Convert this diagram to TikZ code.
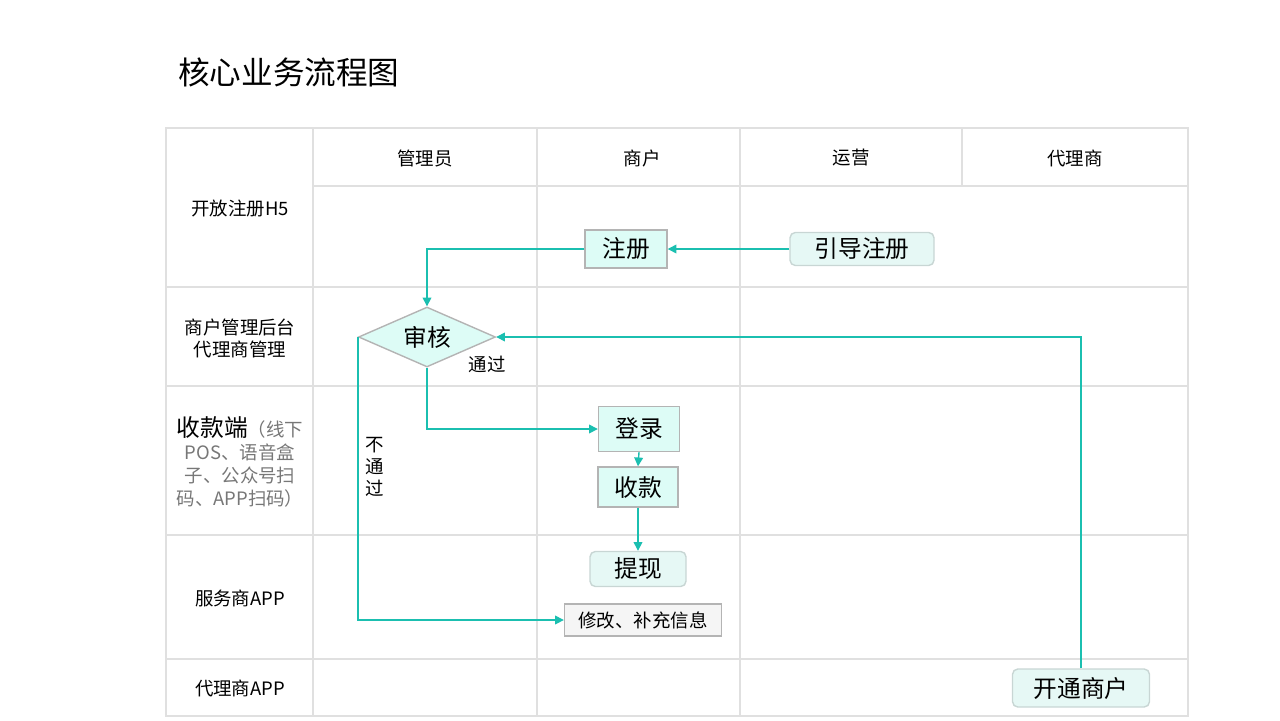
\documentclass[tikz,border=0pt]{standalone}
\usepackage{fontspec}
\setmainfont{Noto Sans CJK SC}
\usetikzlibrary{arrows.meta}
\usetikzlibrary{positioning}
\usetikzlibrary{shapes.geometric}
\definecolor{flowteal}{HTML}{1BBFB0}
\definecolor{gridgray}{HTML}{E0E0E0}
\definecolor{boxgray}{HTML}{B4B4B4}
\definecolor{boxfill}{HTML}{DDFCF6}
\definecolor{softfill}{HTML}{E6F8F5}
\definecolor{softline}{HTML}{C8D6D4}
\definecolor{notefill}{HTML}{F5F5F5}
\definecolor{notetext}{HTML}{777777}
\tikzset{
  lane/.style={draw=gridgray,line width=0.8pt},
  lanetext/.style={font=\fontsize{10.5}{12.5}\selectfont,text=black,align=center},
  stepbox/.style={rectangle,draw=boxgray,fill=boxfill,line width=0.8pt,font=\fontsize{13.5}{16}\selectfont,inner sep=0pt},
  softbox/.style={rectangle,rounded corners=3pt,draw=softline,fill=softfill,line width=0.8pt,font=\fontsize{13.5}{16}\selectfont,inner sep=0pt},
  checkbox/.style={diamond,aspect=2.3,draw=boxgray,fill=boxfill,line width=0.8pt,font=\fontsize{13.5}{16}\selectfont,inner sep=1pt},
  notebox/.style={rectangle,draw=boxgray,fill=notefill,line width=0.8pt,font=\fontsize{10.5}{12.5}\selectfont,inner sep=0pt},
  flow/.style={draw=flowteal,line width=0.8pt,-{Triangle[width=5pt,length=5pt]}},
}
\begin{document}
\begin{tikzpicture}[x=0.02cm,y=-0.02cm]
\useasboundingbox (0,0) rectangle (1280,720);
\node[anchor=west,font=\fontsize{18}{22}\selectfont] (title) at (172,72) {核心业务流程图};
\draw[lane] (166,128) rectangle (1188,716);
\draw[lane] (313,186) -- (1188,186);
\draw[lane] (166,287) -- (1188,287);
\draw[lane] (166,386) -- (1188,386);
\draw[lane] (166,535) -- (1188,535);
\draw[lane] (166,659) -- (1188,659);
\draw[lane] (313,128) -- (313,716);
\draw[lane] (537,128) -- (537,716);
\draw[lane] (740,128) -- (740,716);
\draw[lane] (962,128) -- (962,186);

\node[lanetext] (hadmin) at (425,158) {管理员};
\node[lanetext] (hshop) at (642,158) {商户};
\node[lanetext] (hops) at (851,158) {运营};
\node[lanetext] (hagent) at (1075,158) {代理商};

\node[lanetext] (rh5) at (240,209) {开放注册H5};
\node[lanetext] (rback) at (240,338) {商户管理后台\\代理商管理};
\node[lanetext,font=\fontsize{10.5}{13}\selectfont] (rpay) at (240,462) {{\fontsize{13.5}{13}\selectfont 收款端}\textcolor{notetext}{（线下}\\\textcolor{notetext}{POS、语音盒}\\\textcolor{notetext}{子、公众号扫}\\\textcolor{notetext}{码、APP扫码）}};
\node[lanetext] (rsvc) at (240,598) {服务商APP};
\node[lanetext] (ragent) at (240,688) {代理商APP};

\node[stepbox,minimum width=1.64cm,minimum height=0.76cm] (zc) at (626,249) {注册};
\node[softbox,minimum width=2.88cm,minimum height=0.66cm] (yd) at (862,249) {引导注册};
\node[checkbox,minimum width=2.74cm,minimum height=1.2cm] (sh) at (427,337) {审核};
\node[stepbox,minimum width=1.62cm,minimum height=0.9cm] (dl) at (639,429) {登录};
\node[stepbox,minimum width=1.6cm,minimum height=0.8cm] (sk) at (638,487) {收款};
\node[softbox,minimum width=1.92cm,minimum height=0.7cm] (tx) at (638,569) {提现};
\node[notebox,minimum width=3.14cm,minimum height=0.64cm] (xg) at (643,620) {修改、补充信息};
\node[softbox,minimum width=2.74cm,minimum height=0.76cm] (kt) at (1081,688) {开通商户};

\node[lanetext] (pass) at (487,364) {通过};
\node[lanetext,font=\fontsize{10.5}{12.5}\selectfont] (fail) at (375,467) {不\\通\\过};

\draw[flow] (yd.west) -- (zc.east);
\draw[flow] (zc.west) -| (sh.north);
\draw[flow] (sh.south) |- (dl.west);
\draw[flow] (dl.south) -- (sk.north);
\draw[flow] (sk.south) -- (tx.north);
\draw[flow] (sh.west) |- (xg.west);
\draw[flow] (kt.north) |- (sh.east);
\end{tikzpicture}
\end{document}
